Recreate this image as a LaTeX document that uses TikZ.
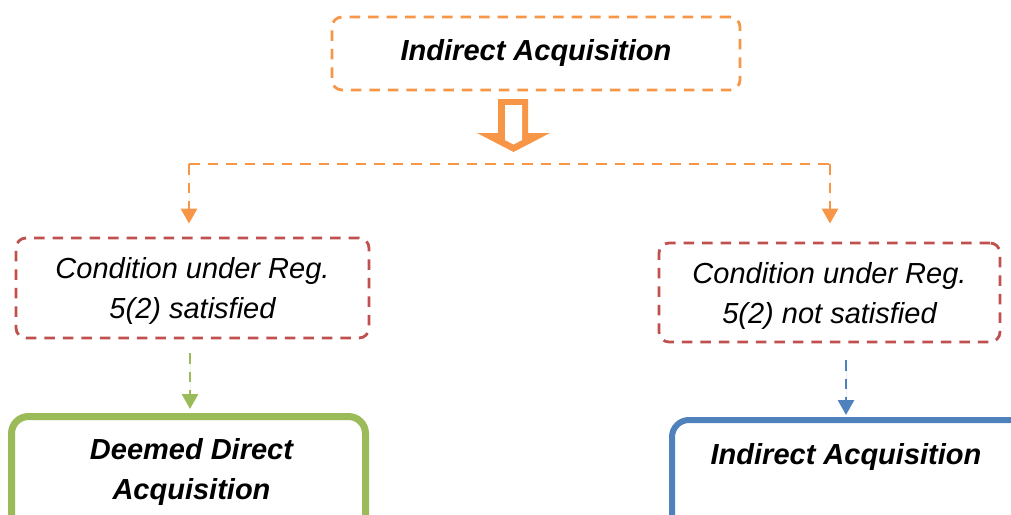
\documentclass[tikz,border=0pt]{standalone}
\usepackage{fontspec}
\setmainfont{Liberation Sans}
\usetikzlibrary{arrows.meta}
\definecolor{offorange}{HTML}{F79646}
\definecolor{offred}{HTML}{C0504D}
\definecolor{offgreen}{HTML}{9BBB59}
\definecolor{offblue}{HTML}{4F81BD}
\tikzset{
  txtfont/.style={font=\fontsize{29}{40}\selectfont\itshape},
  boldfont/.style={font=\fontsize{29}{40}\selectfont\bfseries\itshape},
  dashline/.style={line width=2.8pt, dash pattern=on 10.5pt off 8pt},
  topbox/.style={draw=offorange, dashline, rounded corners=10pt, inner sep=0pt, boldfont, text=black},
  condbox/.style={draw=offred, dashline, rounded corners=10pt, inner sep=0pt, txtfont, align=center, text=black},
  greenbox/.style={draw=offgreen, line width=7pt, rounded corners=17pt, inner sep=0pt},
  bluebox/.style={draw=offblue, line width=6pt, rounded corners=17pt, inner sep=0pt},
  tipped/.style={-{Triangle[width=16pt,length=15pt]}},
}
\newcommand{\upstrut}{\vrule height 27pt width 0pt}
\begin{document}
\begin{tikzpicture}[x=1pt,y=-1pt]
\useasboundingbox (0,0) rectangle (1011,514);
\clip (0,0) rectangle (1011,514);
% boxes
\node[topbox, minimum width=408pt, minimum height=73pt] (top) at (536,53.5) {Indirect Acquisition};
\node[condbox, minimum width=353pt, minimum height=100pt] (cl) at (192.5,288) {\upstrut Condition under Reg.\\5(2) satisfied};
\node[condbox, minimum width=341pt, minimum height=99pt] (cr) at (829.5,292.5) {\upstrut Condition under Reg.\\5(2) not satisfied};
\node[greenbox, minimum width=354pt, minimum height=130pt] (gb) at (188.5,481.5) {};
\node[bluebox, minimum width=368pt, minimum height=130pt] (bb) at (856,485) {};
\node[boldfont, align=center] (gt) at (191.5,471.5) {Deemed Direct\\Acquisition};
\node[boldfont, anchor=base] (bt) at (846,464) {Indirect Acquisition};
% block arrow
\fill[offorange] (498,99) -- (528,99) -- (528,133) -- (550,133) -- (513.5,152) -- (477,133) -- (498,133) -- cycle;
\fill[white] (505,105) -- (522,105) -- (522,140) -- (513.5,144.5) -- (505,140) -- cycle;
% branch
\coordinate (bl) at (189,164);
\coordinate (br) at (830,164);
\draw[draw=offorange, dashline] (bl) -- (br);
\draw[draw=offorange, fill=offorange, dashline, tipped, shorten >=13pt] (bl) -- (bl |- cl.north);
\draw[draw=offorange, fill=offorange, dashline, tipped, shorten >=18pt] (br) -- (br |- cr.north);
% lower arrows
\coordinate (ga) at (190,338);
\coordinate (ba) at (846,342);
\draw[draw=offgreen, fill=offgreen, dashline, tipped, shorten <=15pt, shorten >=4pt] (ga) -- (ga |- gb.north);
\draw[draw=offblue, fill=offblue, dashline, tipped, shorten <=18pt, shorten >=2pt] (ba) -- (ba |- bb.north);
\end{tikzpicture}
\end{document}
